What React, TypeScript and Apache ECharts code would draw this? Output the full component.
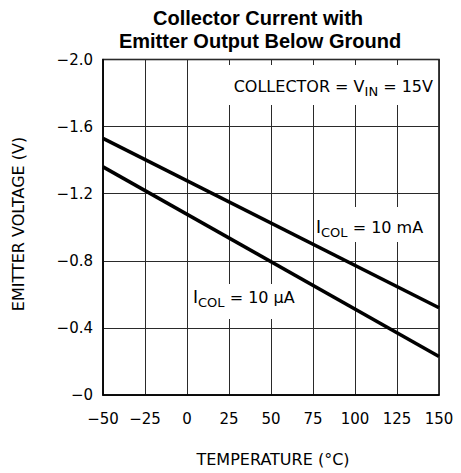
import React, { useEffect, useRef } from "react";
import * as echarts from "echarts";

const temps = [-50, 150];
const icol10mA = [-1.53, -0.52];
const icol10uA = [-1.36, -0.23];
const xTicks = [-50, -25, 0, 25, 50, 75, 100, 125, 150];
const yTicks = [-2.0, -1.6, -1.2, -0.8, -0.4, 0];
const titleLines = ["Collector Current with", "Emitter Output Below Ground"];

const FONT = "DejaVu Sans";

export default function App() {
  const ref = useRef<HTMLDivElement>(null);
  useEffect(() => {
    document.body.style.margin = "0";
    const chart = echarts.init(ref.current!, null, { renderer: "svg" });
    const mk = (vals: number[]) => temps.map((t, i) => [t, vals[i]]);
    const fmtY = (v: number) => (Math.abs(v) < 1e-9 ? "\u22120" : "\u2212" + Math.abs(v).toFixed(1));
    const fmtX = (v: number) => (v < 0 ? "\u2212" + Math.abs(v) : String(v));
    const rich = {
      a: { fontFamily: FONT, fontSize: 16, lineHeight: 24, color: "#000" },
      i: { fontFamily: FONT, fontSize: 17, lineHeight: 24, color: "#000" },
      s: { fontFamily: FONT, fontSize: 13, lineHeight: 12, verticalAlign: "bottom", color: "#000" },
    };
    const titleStyle = { fontFamily: "Liberation Sans", fontWeight: "bold", fontSize: 20, fill: "#000", align: "center", verticalAlign: "middle" };
    chart.setOption({
      animation: false,
      backgroundColor: "#fff",
      grid: { left: 103, top: 59.5, right: 22, bottom: 78, show: true, borderColor: "#000", borderWidth: 1.5, backgroundColor: "transparent" },
      xAxis: {
        type: "value",
        min: xTicks[0],
        max: xTicks[xTicks.length - 1],
        interval: 25,
        axisLine: { show: true, onZero: false, lineStyle: { color: "#000", width: 1.5 } },
        axisTick: { show: false },
        axisLabel: { formatter: fmtX, fontFamily: FONT, fontSize: 15, color: "#000", margin: 16 },
        splitLine: { show: true, lineStyle: { color: "#2a2a2a", width: 1 } },
      },
      yAxis: {
        type: "value",
        min: yTicks[0],
        max: yTicks[yTicks.length - 1],
        interval: 0.4,
        inverse: true,
        axisLine: { show: true, onZero: false, lineStyle: { color: "#000", width: 1.5 } },
        axisTick: { show: false },
        axisLabel: { formatter: fmtY, fontFamily: FONT, fontSize: 15, color: "#000", margin: 10 },
        splitLine: { show: true, lineStyle: { color: "#2a2a2a", width: 1 } },
      },
      graphic: [
        { type: "text", z: 3, x: 258, y: 18, style: { ...titleStyle, text: titleLines[0] } },
        { type: "text", z: 3, x: 260, y: 40.5, style: { ...titleStyle, text: titleLines[1] } },
        { type: "rect", z: 1, shape: { x: 222, y: 65, width: 216, height: 40 }, style: { fill: "#fff" } },
        { type: "rect", z: 1, shape: { x: 315, y: 207, width: 123, height: 35 }, style: { fill: "#fff" } },
        { type: "rect", z: 1, shape: { x: 188, y: 284, width: 124, height: 35 }, style: { fill: "#fff" } },
        {
          type: "text", z: 3, x: 433, y: 86,
          style: { text: "{a|COLLECTOR = V}{s|IN}{a| = 15V}", rich, align: "right", verticalAlign: "middle" },
        },
        {
          type: "text", z: 3, x: 316, y: 227,
          style: { text: "{i|I}{s|COL}{a| = 10 mA}", rich, align: "left", verticalAlign: "middle" },
        },
        {
          type: "text", z: 3, x: 193, y: 297,
          style: { text: "{i|I}{s|COL}{a| = 10 \u03bcA}", rich, align: "left", verticalAlign: "middle" },
        },
        {
          type: "text", z: 3, x: 273, y: 459,
          style: { text: "TEMPERATURE (\u00b0C)", fontFamily: FONT, fontSize: 16, fill: "#000", align: "center", verticalAlign: "middle" },
        },
        {
          type: "text", z: 3, x: 18.5, y: 224, rotation: Math.PI / 2,
          style: { text: "EMITTER VOLTAGE (V)", fontFamily: FONT, fontSize: 16, fill: "#000", align: "center", verticalAlign: "middle" },
        },
      ],
      series: [
        { type: "line", z: 5, data: mk(icol10mA), symbol: "none", lineStyle: { color: "#000", width: 3.5 } },
        { type: "line", z: 5, data: mk(icol10uA), symbol: "none", lineStyle: { color: "#000", width: 3.5 } },
      ],
    });
    return () => chart.dispose();
  }, []);
  return <div ref={ref} style={{ position: "absolute", left: 0, top: 0, width: 461, height: 473 }} />;
}
